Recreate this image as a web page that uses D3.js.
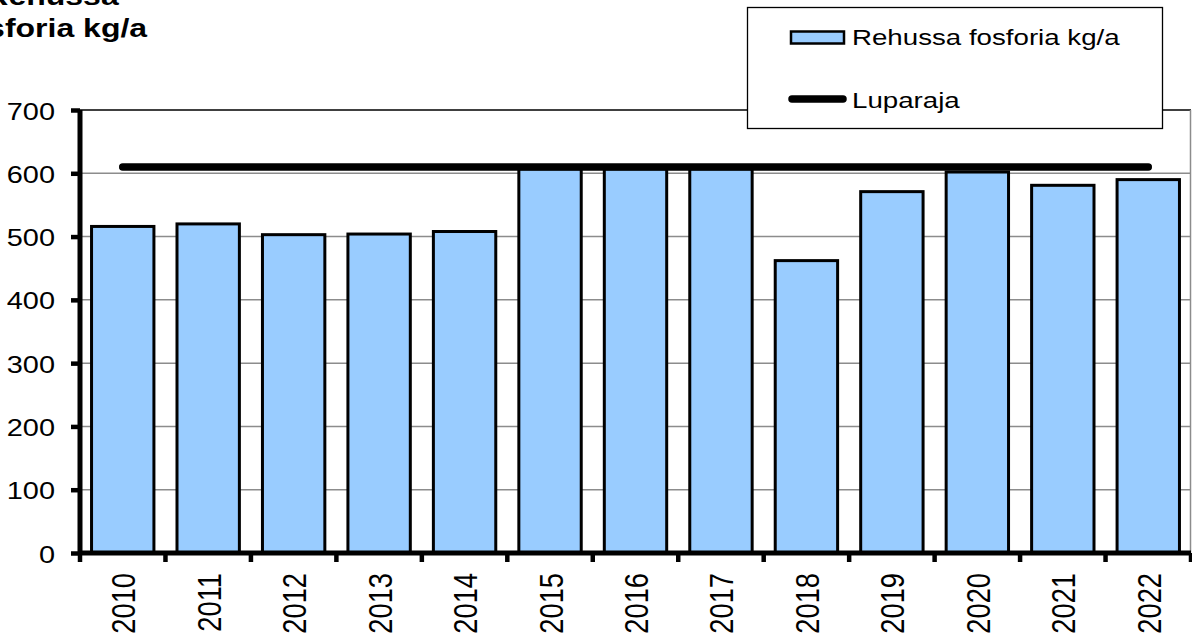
<!DOCTYPE html>
<html>
<head>
<meta charset="utf-8">
<script src="https://cdn.jsdelivr.net/npm/d3@7"></script>
<style>
  html, body { margin: 0; padding: 0; background: #fff; overflow: hidden; }
  svg { display: block; font-family: "Liberation Sans", Arial, sans-serif; }
</style>
</head>
<body>
<svg id="chart" width="1192" height="633"></svg>
<script>
// Annual phosphorus in feed (kg/a) and the permitted limit
const years = ["2010","2011","2012","2013","2014","2015","2016","2017","2018","2019","2020","2021","2022"];
const feedPhosphorus = [516, 520, 503, 504, 508, 607, 607, 607, 462, 571, 602, 581, 590];
const permitLimit = [610, 610, 610, 610, 610, 610, 610, 610, 610, 610, 610, 610, 610];
const yTicks = [0, 100, 200, 300, 400, 500, 600, 700];
const titleLines = ["Rehussa", "fosforia kg/a"];
const seriesNames = ["Rehussa fosforia kg/a", "Luparaja"];

const svg = d3.select("#chart");
const SX = 1.23; // horizontal text stretch

const plot = { left: 80, right: 1191, top: 110, bottom: 553 };

const x = d3.scaleBand()
  .domain(years)
  .range([plot.left, plot.right])
  .paddingInner(0.27)
  .paddingOuter(0.135);

const step = (plot.right - plot.left) / years.length;

const y = d3.scaleLinear()
  .domain([0, 700])
  .range([plot.bottom, plot.top]);

// Gridlines
svg.append("g")
  .selectAll("line")
  .data(yTicks.filter(d => d > 0 && d < 700))
  .join("line")
  .attr("x1", plot.left).attr("x2", plot.right)
  .attr("y1", d => y(d)).attr("y2", d => y(d))
  .attr("stroke", "#8c8c8c").attr("stroke-width", 1.5);

// Plot area frame (top and right)
svg.append("line")
  .attr("x1", plot.left).attr("x2", plot.right)
  .attr("y1", y(700)).attr("y2", y(700))
  .attr("stroke", "#000").attr("stroke-width", 1.5);
svg.append("line")
  .attr("x1", plot.right - 0.5).attr("x2", plot.right - 0.5)
  .attr("y1", y(700)).attr("y2", plot.bottom)
  .attr("stroke", "#8c8c8c").attr("stroke-width", 1.5);

// Bars
svg.append("g")
  .selectAll("rect")
  .data(years.map((yr, i) => ({ yr, v: feedPhosphorus[i] })))
  .join("rect")
  .attr("x", d => x(d.yr))
  .attr("width", x.bandwidth())
  .attr("y", d => y(d.v))
  .attr("height", d => y(0) - y(d.v))
  .attr("fill", "#99ccff")
  .attr("stroke", "#000")
  .attr("stroke-width", 3);

// Limit line
const line = d3.line()
  .x((d, i) => x(years[i]) + x.bandwidth() / 2)
  .y(d => y(d));
svg.append("path")
  .attr("d", line(permitLimit))
  .attr("fill", "none")
  .attr("stroke", "#000")
  .attr("stroke-width", 7.5)
  .attr("stroke-linecap", "round");

// Y axis
const yAxis = d3.axisLeft(y).tickValues(yTicks).tickSize(9).tickFormat("");
const gy = svg.append("g").attr("transform", `translate(${plot.left},0)`).call(yAxis);
gy.select(".domain").attr("stroke", "#000").attr("stroke-width", 5)
  .attr("d", `M0,${plot.top}V${plot.bottom + 2}`);
gy.selectAll(".tick line").attr("stroke", "#000").attr("stroke-width", 4.5);

gy.selectAll(".tick").append("text")
  .attr("fill", "#000")
  .attr("font-size", 23.5)
  .attr("text-anchor", "end")
  .attr("transform", `translate(-25,9) scale(${SX},1)`)
  .text(d => d);

// X axis
const gx = svg.append("g").attr("transform", `translate(0,${plot.bottom})`);
gx.append("line")
  .attr("x1", plot.left - 2).attr("x2", plot.right)
  .attr("y1", 0).attr("y2", 0)
  .attr("stroke", "#000").attr("stroke-width", 5);
gx.selectAll("line.tick")
  .data(d3.range(years.length + 1))
  .join("line")
  .attr("class", "tick")
  .attr("x1", i => plot.left + i * step).attr("x2", i => plot.left + i * step)
  .attr("y1", 0).attr("y2", 9)
  .attr("stroke", "#000").attr("stroke-width", 4.5);
gx.selectAll("text")
  .data(years)
  .join("text")
  .attr("font-size", 27.3)
  .attr("text-anchor", "end")
  .attr("fill", "#000")
  .attr("transform", d => `translate(${x(d) + x.bandwidth() / 2 + 12.5},20) scale(1.2,1) rotate(-90)`)
  .text(d => d);

// Title (two lines, centred, partly beyond the left edge)
const title = svg.append("text")
  .attr("font-size", 25)
  .attr("font-weight", "bold")
  .attr("text-anchor", "middle")
  .attr("fill", "#000")
  .attr("transform", "translate(52,0) scale(1.28,1)");
title.selectAll("tspan")
  .data(titleLines)
  .join("tspan")
  .attr("x", 0)
  .attr("y", (d, i) => [5, 37][i])
  .text(d => d);

// Legend
const lg = svg.append("g");
lg.append("rect")
  .attr("x", 747.5).attr("y", 7.5)
  .attr("width", 415).attr("height", 121)
  .attr("fill", "#fff").attr("stroke", "#000").attr("stroke-width", 1.3);
lg.append("rect")
  .attr("x", 791).attr("y", 31.5)
  .attr("width", 53).attr("height", 12)
  .attr("fill", "#99ccff").attr("stroke", "#000").attr("stroke-width", 2.5);
lg.append("line")
  .attr("x1", 792).attr("x2", 843)
  .attr("y1", 99).attr("y2", 99)
  .attr("stroke", "#000").attr("stroke-width", 7.5).attr("stroke-linecap", "round");
lg.selectAll("text")
  .data(seriesNames)
  .join("text")
  .attr("font-size", 22.5)
  .attr("fill", "#000")
  .attr("transform", (d, i) => `translate(852,${[45, 108][i]}) scale(${SX},1)`)
  .text(d => d);
</script>
</body>
</html>
